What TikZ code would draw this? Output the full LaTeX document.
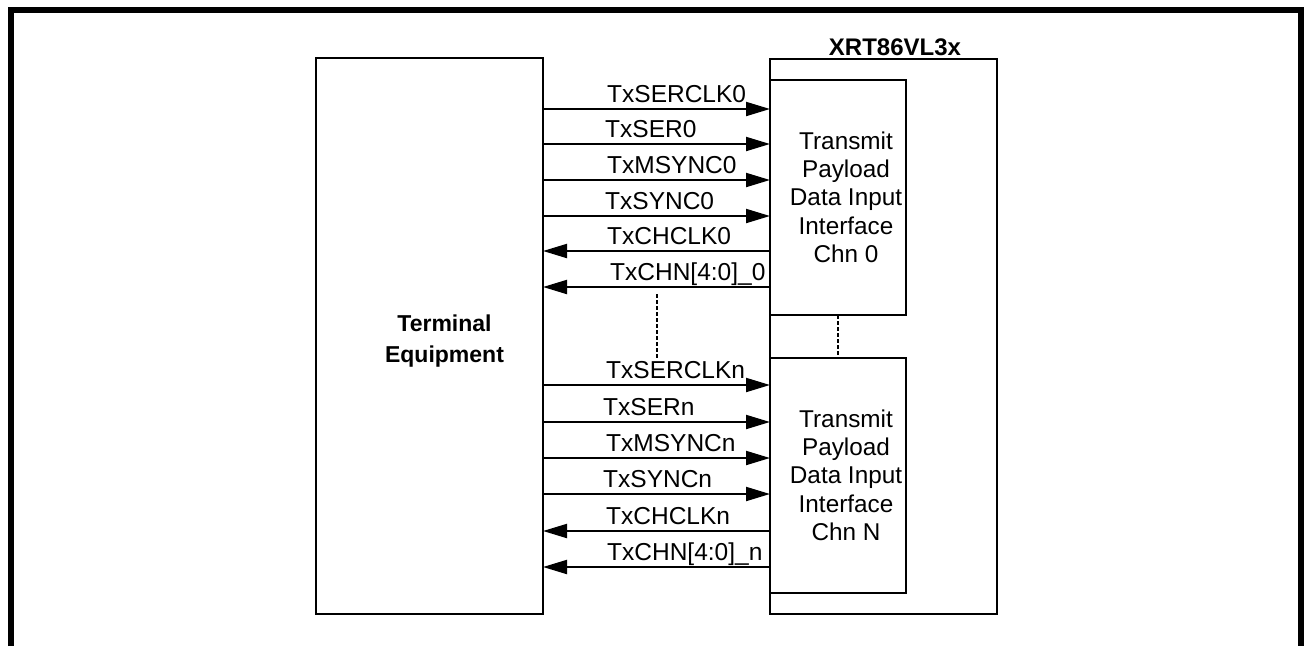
\documentclass[tikz,border=0pt]{standalone}
\usepackage{fontspec}
\setmainfont{Liberation Sans}
\usetikzlibrary{arrows.meta}
\begin{document}
\begin{tikzpicture}[x=1pt,y=-1pt,
  box/.style={draw,line width=2pt,inner sep=0pt,outer sep=0pt},
  sig/.style={line width=2pt,-{Triangle[length=24pt,width=14pt]}},
  lbl/.style={anchor=base west,inner sep=0pt,font=\fontsize{24.5}{28}\selectfont},
  btxt/.style={anchor=north,inner sep=0pt,align=center,font=\fontsize{24.3}{28.3}\selectfont},
  dsh/.style={line width=1.5pt,dash pattern=on 4pt off 2pt}]
\useasboundingbox (0,0) rectangle (1304,646);
% outer frame (open at bottom)
\draw[line width=6pt] (11,646) -- (11,10) -- (1301,10) -- (1301,646);
% blocks
\node[box,minimum width=227pt,minimum height=556pt] (te) at (429.5,336) {};
\node[box,minimum width=227pt,minimum height=555pt] (xrt) at (883.5,336.5) {};
\node[box,minimum width=136pt,minimum height=235pt] (ch0) at (838,197.5) {};
\node[box,minimum width=136pt,minimum height=235pt] (chn) at (838,475.5) {};
% block texts
\node[anchor=base,inner sep=0pt,font=\fontsize{24}{28}\selectfont\bfseries] (xrtt) at (895,55) {XRT86VL3x};
\node[btxt,font=\fontsize{23}{31.5}\selectfont\bfseries] (tet) at (444.5,314.5) {Terminal\\Equipment};
\node[btxt] (ch0t) at (846,131.5) {Transmit\\Payload\\Data Input\\Interface\\Chn 0};
\node[btxt] (chnt) at (846,409.5) {Transmit\\Payload\\Data Input\\Interface\\Chn N};
% channel 0 signals
\draw[sig] (te.east |- 0,109) -- (ch0.west |- 0,109);
\draw[sig] (te.east |- 0,144) -- (ch0.west |- 0,144);
\draw[sig] (te.east |- 0,180) -- (ch0.west |- 0,180);
\draw[sig] (te.east |- 0,216) -- (ch0.west |- 0,216);
\draw[sig] (ch0.west |- 0,251) -- (te.east |- 0,251);
\draw[sig] (ch0.west |- 0,287) -- (te.east |- 0,287);
\node[lbl] (l1) at (607,102) {TxSERCLK0};
\node[lbl] (l2) at (605,137) {TxSER0};
\node[lbl] (l3) at (607,173) {TxMSYNC0};
\node[lbl] (l4) at (605,209) {TxSYNC0};
\node[lbl] (l5) at (607,244) {TxCHCLK0};
\node[lbl] (l6) at (610,280) {TxCHN[4:0]\_0};
% channel n signals
\draw[sig] (te.east |- 0,385) -- (chn.west |- 0,385);
\draw[sig] (te.east |- 0,422) -- (chn.west |- 0,422);
\draw[sig] (te.east |- 0,458) -- (chn.west |- 0,458);
\draw[sig] (te.east |- 0,494) -- (chn.west |- 0,494);
\draw[sig] (chn.west |- 0,531) -- (te.east |- 0,531);
\draw[sig] (chn.west |- 0,567) -- (te.east |- 0,567);
\node[lbl] (m1) at (606,378) {TxSERCLKn};
\node[lbl] (m2) at (603,415) {TxSERn};
\node[lbl] (m3) at (606,451) {TxMSYNCn};
\node[lbl] (m4) at (603,487) {TxSYNCn};
\node[lbl] (m5) at (606,524) {TxCHCLKn};
\node[lbl] (m6) at (607,560) {TxCHN[4:0]\_n};
% dotted continuation
\coordinate (d1) at (657,294);
\coordinate (d2) at (657,358);
\draw[dsh] (d1) -- (d2);
\draw[dsh] (ch0.south) -- (chn.north);
\end{tikzpicture}
\end{document}
